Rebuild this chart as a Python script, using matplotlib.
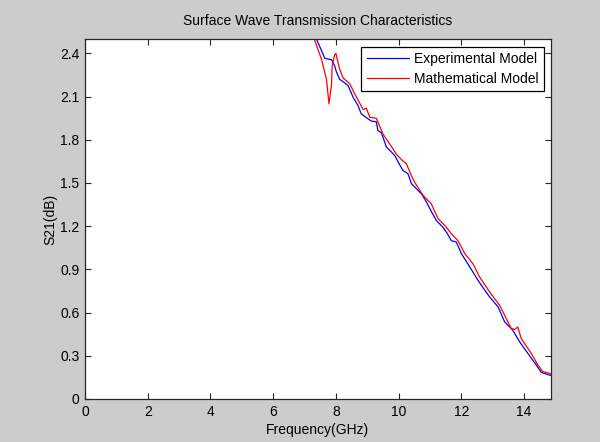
import matplotlib
matplotlib.use("Agg")
import matplotlib.pyplot as plt

plt.rcParams['font.family'] = ['Liberation Sans', 'DejaVu Sans']

title = "Surface Wave Transmission Characteristics"
xlabel = "Frequency(GHz)"
ylabel = "S21(dB)"
labels = ["Experimental Model", "Mathematical Model"]

exp_x = [7.2, 7.38, 7.5, 7.65, 7.86, 7.95, 8.02, 8.12, 8.25, 8.39, 8.55, 8.70, 8.81,
         9.03, 9.13, 9.29, 9.34, 9.45, 9.61, 9.75, 9.88, 10.0, 10.14, 10.30, 10.41,
         10.57, 10.73, 10.89, 11.05, 11.20, 11.41, 11.55, 11.68, 11.84, 12.0, 12.27,
         12.53, 12.70, 12.90, 13.17, 13.38, 13.64, 13.86, 14.12, 14.39, 14.55, 14.81, 14.85]
exp_y = [2.58, 2.50, 2.44, 2.365, 2.356, 2.32, 2.27, 2.22, 2.20, 2.176, 2.095, 2.04, 1.98,
         1.945, 1.93, 1.925, 1.864, 1.85, 1.75, 1.72, 1.69, 1.64, 1.587, 1.564, 1.495,
         1.46, 1.425, 1.367, 1.30, 1.24, 1.194, 1.15, 1.10, 1.09, 1.01, 0.917,
         0.825, 0.77, 0.709, 0.64, 0.536, 0.478, 0.397, 0.317, 0.236, 0.185, 0.166, 0.165]

math_x = [7.15, 7.31, 7.54, 7.70, 7.78, 7.86, 7.88, 7.96, 8.0, 8.12, 8.23, 8.44, 8.60,
          8.87, 8.97, 9.08, 9.29, 9.50, 9.72, 9.93, 10.10, 10.25, 10.41, 10.51, 10.78,
          11.04, 11.26, 11.52, 11.68, 11.89, 12.11, 12.37, 12.58, 12.90, 13.22, 13.38,
          13.59, 13.70, 13.80, 13.91, 14.23, 14.44, 14.60, 14.81, 14.85]
math_y = [2.60, 2.50, 2.36, 2.22, 2.05, 2.18, 2.31, 2.39, 2.40, 2.29, 2.23, 2.19, 2.12,
          2.01, 2.02, 1.956, 1.95, 1.84, 1.77, 1.70, 1.66, 1.633, 1.55, 1.506, 1.414,
          1.356, 1.252, 1.194, 1.148, 1.10, 1.01, 0.94, 0.848, 0.744, 0.651, 0.582,
          0.49, 0.483, 0.50, 0.42, 0.317, 0.236, 0.19, 0.178, 0.175]

xticks = [0, 2, 4, 6, 8, 10, 12, 14]
yticks = [0, 0.3, 0.6, 0.9, 1.2, 1.5, 1.8, 2.1, 2.4]
yticklabels = ["0", "0.3", "0.6", "0.9", "1.2", "1.5", "1.8", "2.1", "2.4"]

fig = plt.figure(figsize=(6.0, 4.42), dpi=100, facecolor='#cccccc')
ax = fig.add_axes([85/600, 43/442, 465.7/600, 360/442])
ax.set_facecolor('white')

ax.plot(exp_x, exp_y, color='#0000ff', lw=0.9, label=labels[0])
ax.plot(math_x, math_y, color='#ff0000', lw=0.9, label=labels[1])

ax.set_xlim(0, 14.85)
ax.set_ylim(0, 2.5)
ax.set_xticks(xticks)
ax.set_xticklabels([str(t) for t in xticks])
ax.set_yticks(yticks)
ax.set_yticklabels(yticklabels)
ax.tick_params(direction='in', length=4, width=0.8, top=True, right=True,
               labelsize=10, colors='#262626', labelcolor='black', pad=4)
for s in ax.spines.values():
    s.set_color('#262626')
    s.set_linewidth(0.9)

ax.set_title(title, fontsize=10, pad=10)
ax.set_xlabel(xlabel, fontsize=10, labelpad=3)
ax.set_ylabel(ylabel, fontsize=10, labelpad=2)

leg = ax.legend(loc='upper right', bbox_to_anchor=(0.9863, 0.9786), borderaxespad=0,
                fontsize=10, handlelength=3.0, handletextpad=0.4, labelspacing=0.4,
                borderpad=0.4, fancybox=False, framealpha=1, edgecolor='black')
leg.get_frame().set_linewidth(0.9)

fig.savefig("out.png", dpi=100, facecolor=fig.get_facecolor())
